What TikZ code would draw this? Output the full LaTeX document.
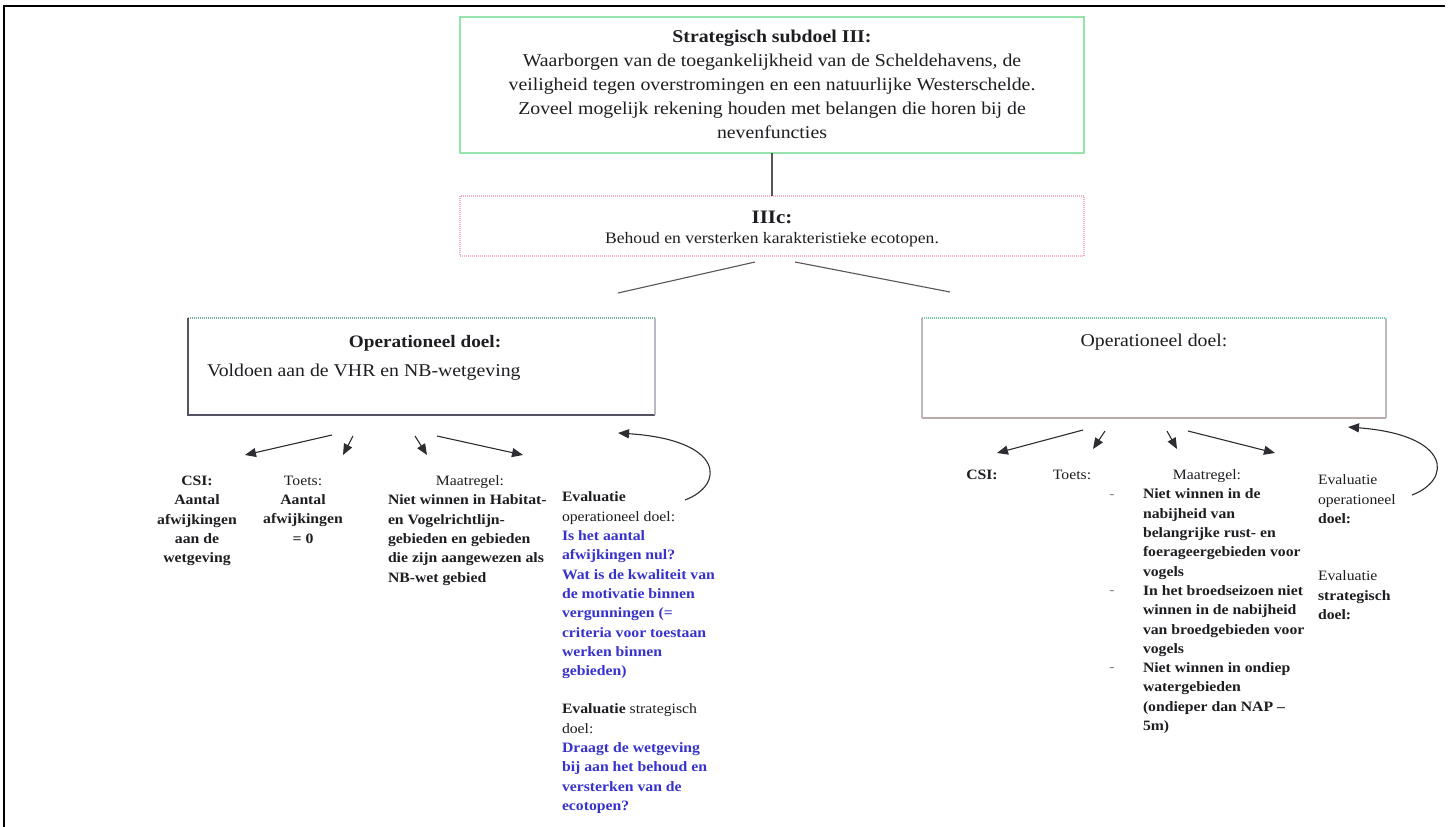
\documentclass[tikz,border=0pt]{standalone}
\usepackage{fontspec}
\setmainfont{Liberation Serif}[FakeStretch=1.1]
\usetikzlibrary{arrows.meta}

\definecolor{ink}{RGB}{30,30,34}
\definecolor{askblue}{RGB}{55,50,205}
\definecolor{greenrule}{RGB}{150,228,172}
\definecolor{pinkrule}{RGB}{242,178,192}
\definecolor{arrowgray}{RGB}{45,45,50}
\definecolor{edgedark}{RGB}{85,80,100}
\definecolor{edgelight}{RGB}{185,185,195}
\definecolor{edgegreen}{RGB}{110,200,160}

\newcommand\txtS{\fontsize{14.3}{19.3}\selectfont}
\newcommand\txtTop{\fontsize{18}{24}\selectfont}
\newcommand\txtOp{\fontsize{17.5}{21}\selectfont}

\tikzset{
  boxnode/.style={inner sep=0pt, outer sep=0pt},
  lbl/.style={inner sep=0pt, outer sep=0pt, text=ink},
  linkline/.style={draw=arrowgray!80, line width=1.1pt},
  arr/.style={draw=arrowgray, line width=1.1pt, -{Triangle[length=11pt,width=9pt]}},
  dottededge/.style={line width=1.1pt, dash pattern=on 1.2pt off 0.8pt},
}

\begin{document}
\begin{tikzpicture}[x=1pt,y=-1pt]
\useasboundingbox (0,0) rectangle (1452,827);
\fill[white] (0,0) rectangle (1452,827);

% page frame (top and left rules)
\draw[black, line width=2.5pt] (1445,6) -- (4,6) -- (4,827);

% strategic goal
\node[boxnode, draw=greenrule, line width=1.2pt, minimum width=624pt, minimum height=136pt] (topbox) at (772,85) {};
\node[lbl, anchor=north, align=center, font=\txtTop] (toptext) at (772,30)
  {\textbf{Strategisch subdoel III:}\\
   Waarborgen van de toegankelijkheid van de Scheldehavens, de\\
   veiligheid tegen overstromingen en een natuurlijke Westerschelde.\\
   Zoveel mogelijk rekening houden met belangen die horen bij de\\
   nevenfuncties};

% sub goal IIIc
\node[boxnode, draw=pinkrule, line width=1.1pt, dash pattern=on 1pt off 1pt, minimum width=624pt, minimum height=60pt] (iiicbox) at (772,226) {};
\node[lbl, anchor=base, font=\fontsize{19}{22}\selectfont\bfseries] (iiic) at (772,223) {IIIc:};
\node[lbl, anchor=base, font=\fontsize{16}{19}\selectfont] (behoud) at (772,243) {Behoud en versterken karakteristieke ecotopen.};

\draw[linkline] (topbox.south) -- (iiicbox.north);

\coordinate (splitL) at (755,262);
\coordinate (splitR) at (795,262);
\coordinate (branchL) at (618,293);
\coordinate (branchR) at (950,292);
\draw[linkline] (splitL) -- (branchL);
\draw[linkline] (splitR) -- (branchR);

% operational goal, left
\node[boxnode, minimum width=467pt, minimum height=97pt] (opL) at (421.5,366.5) {};
\draw[dottededge, draw=edgegreen!60!gray] (opL.north west) -- (opL.north east);
\draw[line width=1.5pt, draw=edgedark] (opL.north west) -- (opL.south west) -- (opL.south east);
\draw[line width=1.3pt, draw=edgelight] (opL.north east) -- (opL.south east);
\node[lbl, anchor=base, font=\txtOp\bfseries] (opLtitle) at (425,347) {Operationeel doel:};
\node[lbl, anchor=base west, font=\fontsize{18}{21}\selectfont] (opLtext) at (207,376) {Voldoen aan de VHR en NB-wetgeving};

% operational goal, right
\node[boxnode, minimum width=464pt, minimum height=100pt] (opR) at (1154,368) {};
\draw[dottededge, draw=edgegreen] (opR.north west) -- (opR.north east);
\draw[line width=1.3pt, draw=edgelight] (opR.north west) -- (opR.south west);
\draw[line width=1.5pt, draw=edgelight!80!brown] (opR.south west) -- (opR.south east);
\draw[line width=1.2pt, draw=edgelight] (opR.north east) -- (opR.south east);
\node[lbl, anchor=base, font=\fontsize{18}{21}\selectfont] (opRtitle) at (1154,346) {Operationeel doel:};

% arrows below the left goal
\coordinate (aL1s) at (332,435); \coordinate (aL1e) at (245,455);
\coordinate (aL2s) at (353,436); \coordinate (aL2e) at (343,455);
\coordinate (aL3s) at (415,436); \coordinate (aL3e) at (427,455);
\coordinate (aL4s) at (437,436); \coordinate (aL4e) at (523,455);
\draw[arr] (aL1s) -- (aL1e);
\draw[arr] (aL2s) -- (aL2e);
\draw[arr] (aL3s) -- (aL3e);
\draw[arr] (aL4s) -- (aL4e);
\coordinate (cLs) at (685,500); \coordinate (cLe) at (618,433);
\draw[arr] (cLs) .. controls (725,485) and (725,440) .. (cLe);

% arrows below the right goal
\coordinate (aR1s) at (1083,430); \coordinate (aR1e) at (997,453);
\coordinate (aR2s) at (1105,431); \coordinate (aR2e) at (1093,449);
\coordinate (aR3s) at (1167,431); \coordinate (aR3e) at (1177,449);
\coordinate (aR4s) at (1188,431); \coordinate (aR4e) at (1275,453);
\draw[arr] (aR1s) -- (aR1e);
\draw[arr] (aR2s) -- (aR2e);
\draw[arr] (aR3s) -- (aR3e);
\draw[arr] (aR4s) -- (aR4e);
\coordinate (cRs) at (1412,495); \coordinate (cRe) at (1348,427);
\draw[arr] (cRs) .. controls (1452,480) and (1452,435) .. (cRe);

% left columns
\node[lbl, anchor=north, align=center, font=\txtS\bfseries] (csiL) at (197,476)
  {CSI:\\Aantal\\afwijkingen\\aan de\\wetgeving};
\node[lbl, anchor=north, align=center, font=\txtS] (toetsL) at (303,476)
  {Toets:\\\textbf{Aantal}\\\textbf{afwijkingen}\\\textbf{= 0}};
\node[lbl, anchor=north, font=\txtS] (maatL) at (470,476) {Maatregel:};
\node[lbl, anchor=north west, align=left, font=\txtS\bfseries] (maatLtext) at (388,495)
  {Niet winnen in Habitat-\\en Vogelrichtlijn-\\gebieden en gebieden\\die zijn aangewezen als\\NB-wet gebied};
\node[lbl, anchor=north west, align=left, font=\txtS] (evalL) at (562,492)
  {\textbf{Evaluatie}\\operationeel doel:\\
   \textcolor{askblue}{\textbf{Is het aantal}}\\
   \textcolor{askblue}{\textbf{afwijkingen nul?}}\\
   \textcolor{askblue}{\textbf{Wat is de kwaliteit van}}\\
   \textcolor{askblue}{\textbf{de motivatie binnen}}\\
   \textcolor{askblue}{\textbf{vergunningen (=}}\\
   \textcolor{askblue}{\textbf{criteria voor toestaan}}\\
   \textcolor{askblue}{\textbf{werken binnen}}\\
   \textcolor{askblue}{\textbf{gebieden)}}};
\node[lbl, anchor=north west, align=left, font=\txtS] (evalL2) at (562,704)
  {\textbf{Evaluatie} strategisch\\doel:\\
   \textcolor{askblue}{\textbf{Draagt de wetgeving}}\\
   \textcolor{askblue}{\textbf{bij aan het behoud en}}\\
   \textcolor{askblue}{\textbf{versterken van de}}\\
   \textcolor{askblue}{\textbf{ecotopen?}}};

% right columns
\node[lbl, anchor=north, font=\txtS\bfseries] (csiR) at (982,470) {CSI:};
\node[lbl, anchor=north, font=\txtS] (toetsR) at (1072,470) {Toets:};
\node[lbl, anchor=north, font=\txtS] (maatR) at (1207,470) {Maatregel:};
\node[lbl, font=\txtS, text=gray] (dashA) at (1112,497) {-};
\node[lbl, font=\txtS, text=gray] (dashB) at (1112,593) {-};
\node[lbl, font=\txtS, text=gray] (dashC) at (1112,670) {-};
\node[lbl, anchor=north west, align=left, font=\txtS\bfseries] (maatRlist) at (1143,489)
  {Niet winnen in de\\nabijheid van\\belangrijke rust- en\\foerageergebieden voor\\vogels\\
   In het broedseizoen niet\\winnen in de nabijheid\\van broedgebieden voor\\vogels\\
   Niet winnen in ondiep\\watergebieden\\(ondieper dan NAP –\\5m)};
\node[lbl, anchor=north west, align=left, font=\txtS] (evalR) at (1318,475)
  {Evaluatie\\operationeel\\\textbf{doel:}};
\node[lbl, anchor=north west, align=left, font=\txtS] (evalR2) at (1318,571)
  {Evaluatie\\\textbf{strategisch}\\\textbf{doel:}};
\end{tikzpicture}
\end{document}
